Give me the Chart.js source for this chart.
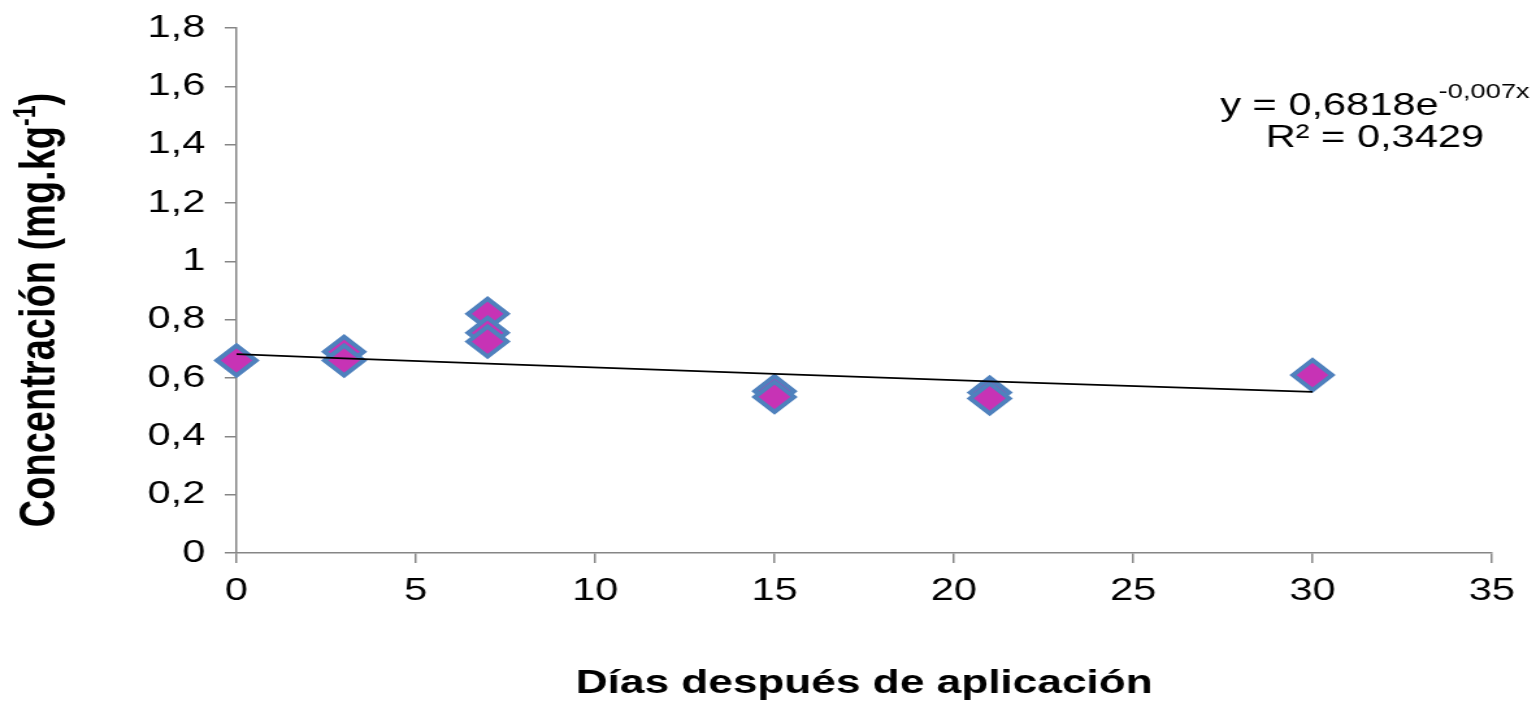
<!DOCTYPE html>
<html>
<head>
<meta charset="utf-8">
<script src="https://cdn.jsdelivr.net/npm/chart.js@4.4.0/dist/chart.umd.min.js"></script>
<style>
  html, body { margin: 0; padding: 0; background: #ffffff; overflow: hidden; }
  #c { display: block; }
</style>
</head>
<body>
<!-- drawn at 1182 px wide and widened to 1536 px on screen -->
<canvas id="c" width="1182" height="704" style="width:1536px;height:704px"></canvas>
<script>
// Measured concentrations (mg/kg) by days after application
const days = [0, 3, 3, 7, 7, 7, 15, 15, 21, 21, 30];
const concentration = [0.66, 0.69, 0.66, 0.82, 0.755, 0.725, 0.555, 0.535, 0.55, 0.53, 0.61];

// Exponential fit y = a * e^(b x), as given in the equation label
const fitA = 0.6818;
const fitB = -0.007;
const fitR2 = 0.3429;
const fitDays = [0, 3, 7, 15, 21, 30];

// Axis ranges and labels
const xMin = 0, xMax = 35, xStep = 5;
const yMin = 0, yMax = 1.8, yStep = 0.2;
const xTitle = 'Días después de aplicación';
const yTitleMain = 'Concentración (mg.kg';
const yTitleSup = '-1';
const yTitleEnd = ')';

const FONT = '"Liberation Sans", Arial, Helvetica, sans-serif';
const AXIS_GREY = '#868686';

const comma = v => String(Math.round(v * 10000) / 10000).replace('.', ',');

const scatterPoints = days.map((d, i) => ({ x: d, y: concentration[i] }));
const fitPoints = fitDays.map(d => ({ x: d, y: fitA * Math.exp(fitB * d) }));

// Rotated y-axis title with a superscript exponent
const yTitlePlugin = {
  id: 'yTitle',
  afterDraw(chart) {
    const ctx = chart.ctx;
    const mainFont = 'bold 38px ' + FONT;
    const supFont = 'bold 23px ' + FONT;
    ctx.save();
    ctx.font = mainFont;
    const w1 = ctx.measureText(yTitleMain).width;
    const w3 = ctx.measureText(yTitleEnd).width;
    ctx.font = supFont;
    const w2 = ctx.measureText(yTitleSup).width;
    const total = w1 + w2 + w3;
    ctx.translate(28, 310);
    ctx.rotate(-Math.PI / 2);
    ctx.fillStyle = '#000';
    ctx.textBaseline = 'alphabetic';
    ctx.textAlign = 'left';
    let x = -total / 2;
    const base = 14;
    ctx.font = mainFont;
    ctx.fillText(yTitleMain, x, base);
    x += w1;
    ctx.font = supFont;
    ctx.fillText(yTitleSup, x, base - 15);
    x += w2;
    ctx.font = mainFont;
    ctx.fillText(yTitleEnd, x, base);
    ctx.restore();
  }
};

// Trend equation and R² in the upper right
const equationPlugin = {
  id: 'equation',
  afterDraw(chart) {
    const ctx = chart.ctx;
    const mainFont = '32px ' + FONT;
    const supFont = '21px ' + FONT;
    const cx = 1058;
    const line1 = 'y = ' + comma(fitA) + 'e';
    const sup = comma(fitB) + 'x';
    const line2 = 'R² = ' + comma(fitR2);
    ctx.save();
    ctx.fillStyle = '#000';
    ctx.textBaseline = 'alphabetic';
    ctx.textAlign = 'left';
    ctx.font = mainFont;
    const w1 = ctx.measureText(line1).width;
    ctx.font = supFont;
    const w2 = ctx.measureText(sup).width;
    let x = cx - (w1 + w2) / 2;
    ctx.font = mainFont;
    ctx.fillText(line1, x, 115);
    ctx.font = supFont;
    ctx.fillText(sup, x + w1, 98);
    ctx.font = mainFont;
    const w3 = ctx.measureText(line2).width;
    ctx.fillText(line2, cx - w3 / 2, 147);
    ctx.restore();
  }
};

new Chart(document.getElementById('c'), {
  type: 'scatter',
  data: {
    datasets: [
      {
        type: 'line',
        data: fitPoints,
        borderColor: '#000000',
        borderWidth: 1.8,
        pointRadius: 0,
        fill: false,
        tension: 0,
        order: 0,
        clip: false
      },
      {
        data: scatterPoints,
        pointStyle: 'rectRot',
        pointRadius: 15,
        pointHoverRadius: 15,
        backgroundColor: '#C733B5',
        borderColor: '#4F81BD',
        borderWidth: 4,
        order: 1,
        clip: false
      }
    ]
  },
  options: {
    responsive: false,
    maintainAspectRatio: false,
    devicePixelRatio: 1,
    animation: false,
    events: [],
    layout: { padding: { top: 28, right: 34, bottom: 0, left: 0 } },
    plugins: {
      legend: { display: false },
      tooltip: { enabled: false },
      title: { display: false }
    },
    scales: {
      x: {
        type: 'linear',
        min: xMin,
        max: xMax,
        ticks: {
          stepSize: xStep,
          color: '#000',
          padding: 9,
          font: { family: FONT, size: 32 },
          callback: v => comma(v)
        },
        grid: {
          drawOnChartArea: false,
          drawTicks: true,
          tickLength: 10,
          color: AXIS_GREY,
          lineWidth: 1.5
        },
        border: { display: true, color: AXIS_GREY, width: 1.5 },
        title: {
          display: true,
          text: xTitle,
          color: '#000',
          font: { family: FONT, size: 34, weight: 'bold', lineHeight: 1.2 },
          padding: { top: 0, bottom: 0 }
        },
        afterFit: s => { s.height = 151; s.paddingLeft = 0; s.paddingRight = 0; }
      },
      y: {
        type: 'linear',
        min: yMin,
        max: yMax,
        ticks: {
          stepSize: yStep,
          color: '#000',
          padding: 15,
          font: { family: FONT, size: 32 },
          callback: v => comma(v)
        },
        grid: {
          drawOnChartArea: false,
          drawTicks: true,
          tickLength: 9,
          color: AXIS_GREY,
          lineWidth: 1.5
        },
        border: { display: true, color: AXIS_GREY, width: 1.5 },
        afterFit: s => { s.width = 182; s.paddingTop = 0; s.paddingBottom = 0; }
      }
    }
  },
  plugins: [yTitlePlugin, equationPlugin]
});
</script>
</body>
</html>
